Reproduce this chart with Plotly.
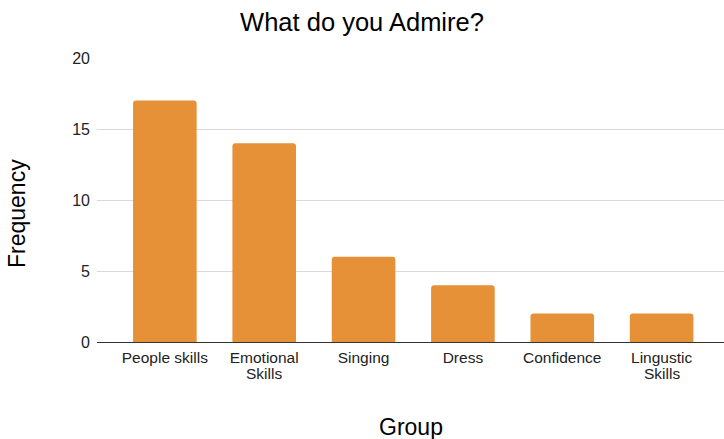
import plotly.graph_objects as go

# Survey responses: what people admire, grouped by category
groups = ["People skills", "Emotional", "Singing", "Dress", "Confidence", "Lingustic"]
group_second_line = ["", "Skills", "", "", "", "Skills"]
frequency = [17, 14, 6, 4, 2, 2]
y_ticks = [0, 5, 10, 15, 20]

BAR_COLOR = "#E69138"
FONT = "Liberation Sans, Arial, sans-serif"
TICK_SIZE = 15.5

fig = go.Figure(
    go.Bar(
        x=list(range(len(groups))),
        y=frequency,
        marker=dict(color=BAR_COLOR, line=dict(width=0)),
        width=0.64,
        hoverinfo="skip",
    )
)

# second lines of the two-line category labels, kept tight under the first line
second_lines = [
    dict(
        text=txt,
        xref="x",
        yref="paper",
        x=i,
        y=0,
        yshift=-31,
        xanchor="center",
        yanchor="middle",
        showarrow=False,
        font=dict(size=TICK_SIZE, color="#222222", family=FONT),
    )
    for i, txt in enumerate(group_second_line)
    if txt
]

fig.update_layout(
    width=724,
    height=439,
    margin=dict(l=97, r=0, t=58, b=97),
    paper_bgcolor="white",
    plot_bgcolor="white",
    showlegend=False,
    barcornerradius=3,
    font=dict(family=FONT, color="#222222"),
    title=dict(
        text="What do you Admire?",
        x=0.5,
        xanchor="center",
        y=1 - 22 / 439,
        yanchor="middle",
        yref="container",
        font=dict(size=25.5, color="#000000", family=FONT),
    ),
    xaxis=dict(
        range=[-0.683, 5.628],
        tickmode="array",
        tickvals=list(range(len(groups))),
        ticktext=groups,
        tickfont=dict(size=TICK_SIZE, color="#222222"),
        showgrid=False,
        zeroline=False,
        showline=False,
        ticks="",
        ticklabelstandoff=4,
        fixedrange=True,
    ),
    yaxis=dict(
        range=[0, 20],
        tickmode="array",
        tickvals=y_ticks,
        ticktext=[str(v) for v in y_ticks],
        tickfont=dict(size=16, color="#222222"),
        showgrid=True,
        gridcolor="#D9D9D9",
        gridwidth=1,
        zeroline=True,
        zerolinecolor="#333333",
        zerolinewidth=1,
        showline=False,
        ticks="",
        ticklabelstandoff=6,
        fixedrange=True,
    ),
    annotations=second_lines + [
        dict(
            text="Group",
            xref="paper",
            yref="paper",
            x=0.5,
            y=0,
            yshift=-85,
            xanchor="center",
            yanchor="middle",
            showarrow=False,
            font=dict(size=23, color="#000000", family=FONT),
        ),
        dict(
            text="Frequency",
            xref="paper",
            yref="paper",
            x=0,
            xshift=-80,
            y=0.5,
            yshift=-14,
            xanchor="center",
            yanchor="middle",
            textangle=-90,
            showarrow=False,
            font=dict(size=23, color="#000000", family=FONT),
        ),
    ],
)

fig.write_html("out.html")
